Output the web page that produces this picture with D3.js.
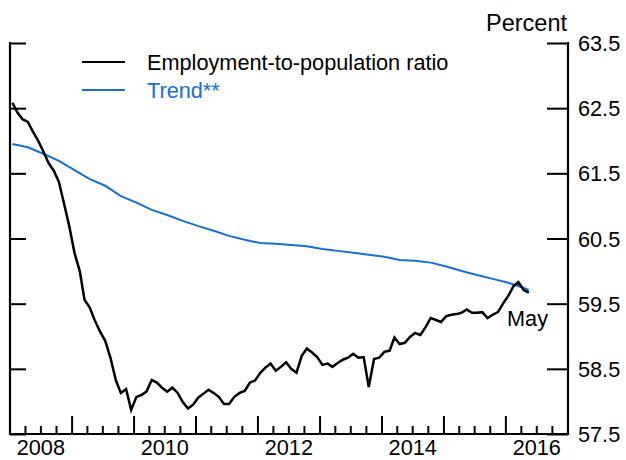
<!DOCTYPE html>
<html>
<head>
<meta charset="utf-8">
<script src="https://cdn.jsdelivr.net/npm/d3@7"></script>
<style>
  body { margin: 0; background: #fff; }
  text { font-family: "Liberation Sans", Arial, sans-serif; }
</style>
</head>
<body>
<div id="chart"></div>
<script>
// monthly, Jan 2008 .. May 2016
var ratio = [
	62.58, 62.43, 62.33, 62.29, 62.14, 62.00, 61.84, 61.66, 61.54, 61.37, 61.03, 60.69,
	60.28, 60.00, 59.56, 59.44, 59.24, 59.07, 58.93, 58.67, 58.33, 58.13, 58.19, 57.87,
	58.07, 58.10, 58.15, 58.33, 58.29, 58.21, 58.15, 58.21, 58.13, 57.99, 57.89, 57.95,
	58.06, 58.12, 58.18, 58.13, 58.07, 57.96, 57.96, 58.07, 58.13, 58.16, 58.29, 58.32,
	58.44, 58.52, 58.58, 58.47, 58.53, 58.60, 58.50, 58.44, 58.70, 58.81, 58.75, 58.68,
	58.56, 58.58, 58.53, 58.59, 58.64, 58.67, 58.73, 58.67, 58.68, 58.22, 58.65, 58.67,
	58.76, 58.78, 58.98, 58.88, 58.90, 58.99, 59.05, 59.02, 59.14, 59.28, 59.25, 59.22,
	59.31, 59.33, 59.34, 59.36, 59.41, 59.36, 59.36, 59.37, 59.28, 59.33, 59.37, 59.50,
	59.62, 59.77, 59.83, 59.71, 59.67
];

// trend, months counted from Jan 2008
var trendMonths = [0, 3, 6, 9, 12, 15, 18, 21, 24, 27, 30, 33, 36, 39, 42, 45, 48, 51,
	54, 57, 60, 63, 66, 69, 72, 75, 78, 81, 84, 87, 90, 93, 96, 99, 100];
var trendValues = [61.95, 61.90, 61.80, 61.69, 61.55, 61.41, 61.31, 61.15, 61.05, 60.94,
	60.86, 60.77, 60.69, 60.62, 60.54, 60.48, 60.43, 60.42, 60.40, 60.38, 60.34, 60.31,
	60.28, 60.25, 60.22, 60.17, 60.16, 60.13, 60.07, 60.00, 59.94, 59.88, 59.82, 59.74, 59.71];

var yTicks = [57.5, 58.5, 59.5, 60.5, 61.5, 62.5, 63.5];
var yearLabels = [2008, 2010, 2012, 2014, 2016];

var width = 626, height = 460;
var plotLeft = 10, plotRight = 568, plotTop = 43, plotBottom = 434;
var fontSize = 21.7;
var blue = "#1570d6";

function monthDate(m) {
	return new Date(Date.UTC(2008, m, 15));
}

var x = d3.scaleUtc()
	.domain([new Date(Date.UTC(2008, 0, 1)), new Date(Date.UTC(2017, 0, 1))])
	.range([plotLeft, plotRight]);

var y = d3.scaleLinear()
	.domain([57.5, 63.5])
	.range([plotBottom, plotTop]);

var svg = d3.select("#chart")
	.append("svg")
	.attr("width", width)
	.attr("height", height);

// right axis
var gr = svg.append("g")
	.attr("transform", "translate(" + plotRight + ",0)")
	.call(d3.axisLeft(y).tickValues(yTicks).tickSize(21).tickFormat(""));
gr.select(".domain").remove();
gr.selectAll("line").attr("stroke", "#000").attr("stroke-width", 2);
gr.append("line")
	.attr("x1", 0).attr("x2", 0)
	.attr("y1", plotTop - 1).attr("y2", plotBottom + 1)
	.attr("stroke", "#000").attr("stroke-width", 2.2);

svg.selectAll(".ylabel")
	.data(yTicks)
	.enter()
	.append("text")
	.attr("class", "ylabel")
	.attr("x", 578)
	.attr("y", function (d) { return y(d) + 8; })
	.attr("font-size", fontSize)
	.text(function (d) { return d.toFixed(1); });

// left axis
var gl = svg.append("g")
	.attr("transform", "translate(" + plotLeft + ",0)")
	.call(d3.axisRight(y).tickValues(yTicks).tickSize(16).tickFormat(""));
gl.select(".domain").remove();
gl.selectAll("line").attr("stroke", "#000").attr("stroke-width", 2);
gl.append("line")
	.attr("x1", 0).attr("x2", 0)
	.attr("y1", plotTop - 1).attr("y2", plotBottom + 1)
	.attr("stroke", "#000").attr("stroke-width", 2.2);

// bottom axis, quarterly ticks, long at year start
var gb = svg.append("g").attr("transform", "translate(0," + plotBottom + ")");
gb.append("line")
	.attr("x1", plotLeft).attr("x2", plotRight)
	.attr("stroke", "#000").attr("stroke-width", 2.2);
gb.selectAll(".qtick")
	.data(x.ticks(d3.utcMonth.every(3)))
	.enter()
	.append("line")
	.attr("class", "qtick")
	.attr("x1", function (d) { return x(d); })
	.attr("x2", function (d) { return x(d); })
	.attr("y1", 0)
	.attr("y2", function (d) { return d.getUTCMonth() === 0 ? -18 : -8; })
	.attr("stroke", "#000")
	.attr("stroke-width", 2);

svg.selectAll(".xlabel")
	.data(yearLabels)
	.enter()
	.append("text")
	.attr("class", "xlabel")
	.attr("x", function (d) { return x(new Date(Date.UTC(d, 6, 1))); })
	.attr("y", 455)
	.attr("text-anchor", "middle")
	.attr("font-size", fontSize)
	.text(function (d) { return d; });

svg.append("text")
	.attr("x", 567)
	.attr("y", 31)
	.attr("text-anchor", "end")
	.attr("font-size", 23.5)
	.text("Percent");

// lines
var trendData = trendMonths.map(function (m, i) { return { date: monthDate(m), value: trendValues[i] }; });
var ratioData = ratio.map(function (v, i) { return { date: monthDate(i), value: v }; });

var line = d3.line()
	.x(function (d) { return x(d.date); })
	.y(function (d) { return y(d.value); });

svg.append("path")
	.datum(trendData)
	.attr("d", line)
	.attr("fill", "none")
	.attr("stroke", blue)
	.attr("stroke-width", 2);

svg.append("path")
	.datum(ratioData)
	.attr("d", line)
	.attr("fill", "none")
	.attr("stroke", "#000")
	.attr("stroke-width", 2.5);

svg.append("text")
	.attr("x", 507)
	.attr("y", 326)
	.attr("font-size", fontSize)
	.text("May");

// legend
var legend = [
	{ label: "Employment-to-population ratio", color: "#000", y: 62 },
	{ label: "Trend**", color: blue, y: 90 }
];
var lg = svg.selectAll(".legend")
	.data(legend)
	.enter()
	.append("g")
	.attr("class", "legend");
lg.append("line")
	.attr("x1", 82).attr("x2", 125)
	.attr("y1", function (d) { return d.y; })
	.attr("y2", function (d) { return d.y; })
	.attr("stroke", function (d) { return d.color; })
	.attr("stroke-width", 2);
lg.append("text")
	.attr("x", 147)
	.attr("y", function (d) { return d.y + 8; })
	.attr("font-size", fontSize)
	.attr("fill", function (d) { return d.color; })
	.text(function (d) { return d.label; });
</script>
</body>
</html>
